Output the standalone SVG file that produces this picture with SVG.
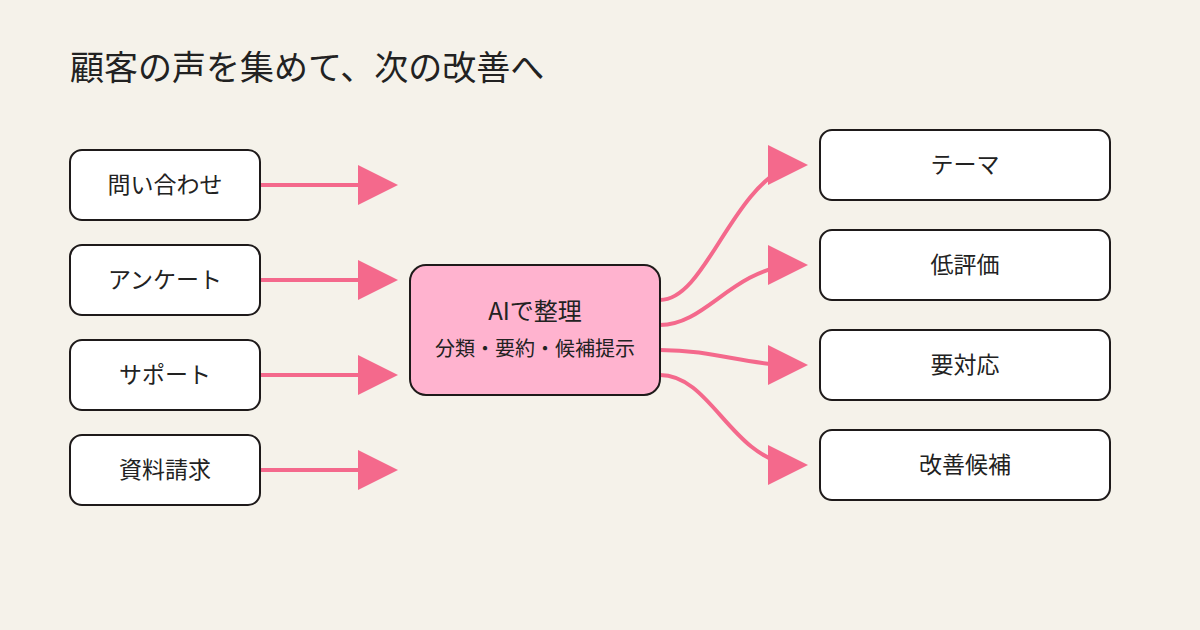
<svg xmlns="http://www.w3.org/2000/svg" width="1200" height="630" viewBox="0 0 1200 630">
<style>
.bg{fill:#f5f2ea}
.node rect{fill:#ffffff;stroke:#1e1a1a;stroke-width:2}
.hub rect{fill:#ffb3cf;stroke:#1e1a1a;stroke-width:2}
text{font-family:"Noto Sans CJK JP","Noto Sans",sans-serif;fill:#222;text-anchor:middle;font-weight:400}
.lbl{font-size:23px}
.title{font-size:34px;text-anchor:start}
.conn path{fill:none;stroke:#f4698c;stroke-width:4;marker-end:url(#ah)}
</style>
<defs>
<marker id="ah" markerUnits="userSpaceOnUse" markerWidth="40" markerHeight="40" refX="22" refY="20" orient="0" overflow="visible">
<path d="M0,0 L40,20 L0,40 z" fill="#f4698c"/>
</marker>
</defs>
<rect class="bg" x="0" y="0" width="1200" height="630"/>
<text class="title" x="70" y="80">顧客の声を集めて、次の改善へ</text>
<g class="conn" id="connectors">
<path d="M260,185 L380,185"/>
<path d="M260,280 L380,280"/>
<path d="M260,375 L380,375"/>
<path d="M260,470 L380,470"/>
<path d="M660,300 C705,300 730,190 790,165"/>
<path d="M660,325 C705,325 730,272 790,265"/>
<path d="M660,350 C715,350 745,365 790,365"/>
<path d="M660,375 C710,375 730,455 790,465"/>
</g>
<g class="node" id="n-inquiry"><rect x="70" y="150" width="190" height="70" rx="12"/><text class="lbl" x="165" y="193">問い合わせ</text></g>
<g class="node" id="n-survey"><rect x="70" y="245" width="190" height="70" rx="12"/><text class="lbl" x="165" y="288">アンケート</text></g>
<g class="node" id="n-support"><rect x="70" y="340" width="190" height="70" rx="12"/><text class="lbl" x="165" y="383">サポート</text></g>
<g class="node" id="n-docs"><rect x="70" y="435" width="190" height="70" rx="12"/><text class="lbl" x="165" y="478">資料請求</text></g>
<g class="hub" id="n-ai"><rect x="410" y="265" width="250" height="130" rx="16"/>
<text x="535" y="320" style="font-size:24px">AIで整理</text>
<text x="535" y="356" style="font-size:20px">分類・要約・候補提示</text></g>
<g class="node" id="n-theme"><rect x="820" y="130" width="290" height="70" rx="12"/><text class="lbl" x="965" y="173">テーマ</text></g>
<g class="node" id="n-low"><rect x="820" y="230" width="290" height="70" rx="12"/><text class="lbl" x="965" y="273">低評価</text></g>
<g class="node" id="n-action"><rect x="820" y="330" width="290" height="70" rx="12"/><text class="lbl" x="965" y="373">要対応</text></g>
<g class="node" id="n-improve"><rect x="820" y="430" width="290" height="70" rx="12"/><text class="lbl" x="965" y="473">改善候補</text></g>
</svg>
